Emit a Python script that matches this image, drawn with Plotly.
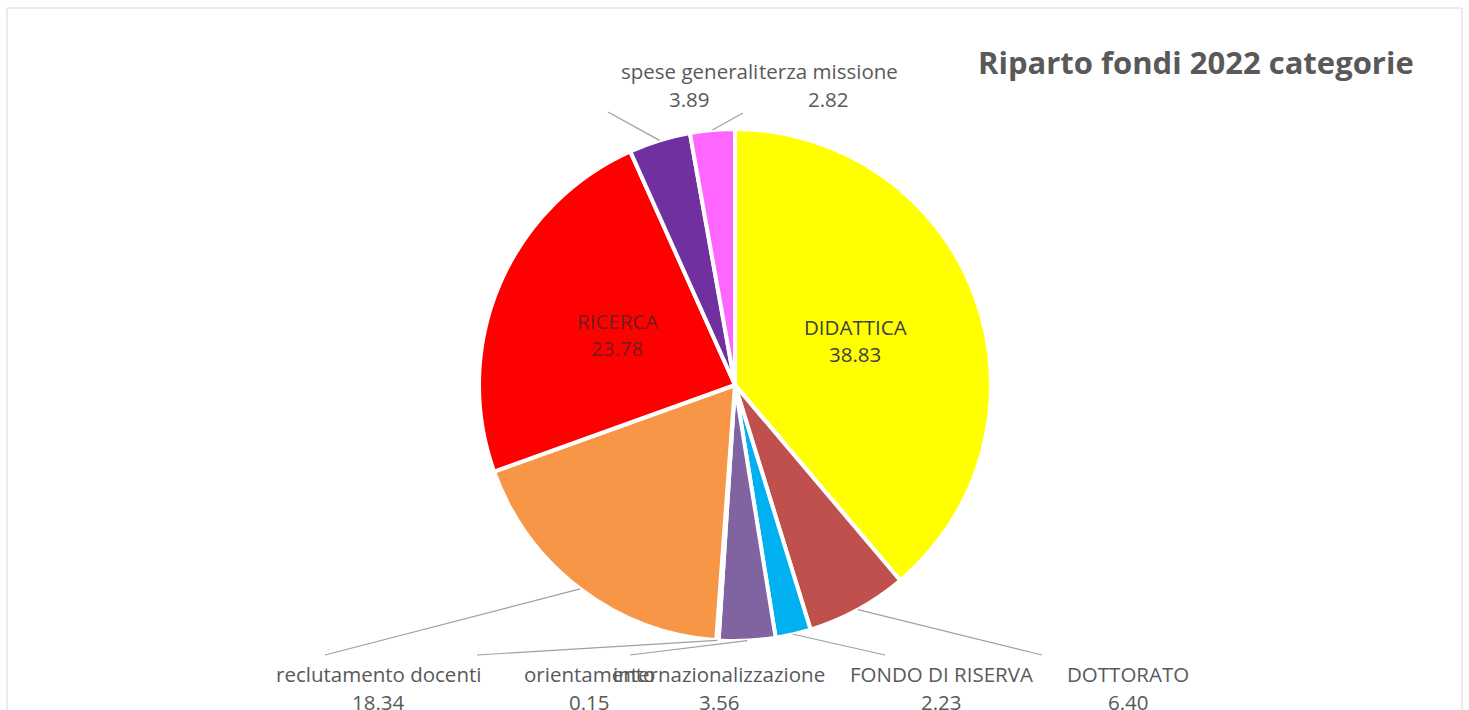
import math
import plotly.graph_objects as go

# ---- data ----
categories = ["DIDATTICA", "DOTTORATO", "FONDO DI RISERVA", "internazionalizzazione",
              "orientamento", "reclutamento docenti", "RICERCA", "spese generali",
              "terza missione"]
values = [38.83, 6.40, 2.23, 3.56, 0.15, 18.34, 23.78, 3.89, 2.82]
colors = ["#FFFF00", "#C0504D", "#00B0F0", "#8064A2", "#4BACC6",
          "#F79646", "#FF0000", "#7030A0", "#FF66FF"]
title_text = "Riparto fondi 2022 categorie"

# ---- layout constants (pixels) ----
W, H = 1469, 710
CX, CY, R = 735, 385, 256


def paper(x, y):
    return x / W, 1 - y / H


# label placement for outside labels: name centre x, name centre y, leader end x, leader end y
outside = {
    "DOTTORATO": (1128, 674, 1042, 655),
    "FONDO DI RISERVA": (941, 674, 885, 655),
    "internazionalizzazione": (719, 674, 630, 655),
    "orientamento": (589, 674, 477, 655),
    "reclutamento docenti": (378, 674, 325, 655),
    "spese generali": (689, 71, 608, 112),
    "terza missione": (828, 71, 743, 113),
}
inside = {"DIDATTICA": "#404040", "RICERCA": "rgba(60,40,40,0.75)"}

fig = go.Figure(go.Pie(
    labels=categories,
    values=values,
    sort=False,
    direction="clockwise",
    rotation=0,
    marker=dict(colors=colors, line=dict(color="white", width=4)),
    textinfo="none",
    showlegend=False,
    domain=dict(x=[(CX - R) / W, (CX + R) / W], y=[1 - (CY + R) / H, 1 - (CY - R) / H]),
))

total = sum(values)
annotations = []
shapes = []
cum = 0.0
label_font = dict(family="Open Sans", size=20.5, color="#595959")
for cat, val in zip(categories, values):
    mid = (cum + val / 2) / total * 2 * math.pi
    cum += val
    vtxt = f"{val:.2f}"
    if cat in inside:
        lx = CX + 0.5 * R * math.sin(mid)
        ly = CY - 0.5 * R * math.cos(mid)
        f = dict(family="Open Sans", size=20.5, color=inside[cat])
        for txt, dy in ((cat, -13.5), (vtxt, 13.5)):
            x, y = paper(lx, ly + dy)
            annotations.append(dict(x=x, y=y, xref="paper", yref="paper", text=txt,
                                    showarrow=False, xanchor="center", yanchor="middle", font=f))
    else:
        nx, ny, ex, ey = outside[cat]
        sx = CX + R * math.sin(mid)
        sy = CY - R * math.cos(mid)
        x0, y0 = paper(sx, sy)
        x1, y1 = paper(ex, ey)
        shapes.append(dict(type="line", xref="paper", yref="paper", x0=x0, y0=y0, x1=x1, y1=y1,
                           line=dict(color="#A0A0A0", width=1.2)))
        for txt, dy in ((cat, 0), (vtxt, 28)):
            x, y = paper(nx, ny + dy)
            annotations.append(dict(x=x, y=y, xref="paper", yref="paper", text=txt,
                                    showarrow=False, xanchor="center", yanchor="middle",
                                    font=label_font))

# title
tx, ty = paper(1196, 62)
annotations.append(dict(x=tx, y=ty, xref="paper", yref="paper", text="<b>" + title_text + "</b>",
                        showarrow=False, xanchor="center", yanchor="middle",
                        font=dict(family="Open Sans", size=31, color="#595959")))

# chart frame
fx0, fy0 = paper(7, 8)
fx1, fy1 = paper(1462, 715)
shapes.append(dict(type="rect", xref="paper", yref="paper", x0=fx0, y0=fy1, x1=fx1, y1=fy0,
                   line=dict(color="#D9D9D9", width=1), layer="below"))

fig.update_layout(
    width=W, height=H,
    margin=dict(l=0, r=0, t=0, b=0),
    paper_bgcolor="white",
    plot_bgcolor="white",
    annotations=annotations,
    shapes=shapes,
)

fig.write_html("out.html",
               config={"displayModeBar": False},
               post_script="document.body.style.margin='0px';document.body.style.overflow='hidden';")
